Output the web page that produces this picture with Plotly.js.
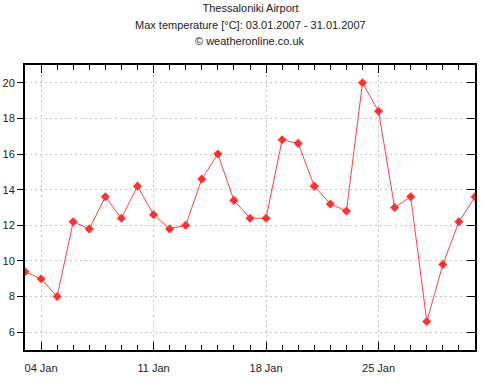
<!DOCTYPE html>
<html><head><meta charset="utf-8">
<script src="https://cdn.plot.ly/plotly-3.0.1.min.js"></script>
<style>html,body{margin:0;padding:0;background:#fff}</style>
</head><body><div id="chart" style="width:501px;height:383px"></div>
<script>
const dates = ["2007-01-03","2007-01-04","2007-01-05","2007-01-06","2007-01-07","2007-01-08","2007-01-09","2007-01-10","2007-01-11","2007-01-12","2007-01-13","2007-01-14","2007-01-15","2007-01-16","2007-01-17","2007-01-18","2007-01-19","2007-01-20","2007-01-21","2007-01-22","2007-01-23","2007-01-24","2007-01-25","2007-01-26","2007-01-27","2007-01-28","2007-01-29","2007-01-30","2007-01-31"];
const maxTemp = [9.4,9.0,8.0,12.2,11.8,13.6,12.4,14.2,12.6,11.8,12.0,14.6,16.0,13.4,12.4,12.4,16.8,16.6,14.2,13.2,12.8,20.0,18.4,13.0,13.6,6.6,9.8,12.2,13.6];
const xTickVals = ["2007-01-04","2007-01-11","2007-01-18","2007-01-25"];
const xTickText = ["04 Jan","11 Jan","18 Jan","25 Jan"];
const yTickVals = [6,8,10,12,14,16,18,20];
const titleLines = ["Thessaloniki Airport","Max temperature [°C]: 03.01.2007 - 31.01.2007","© weatheronline.co.uk"];

const fam = "Liberation Sans, Arial, sans-serif";
const font = {family:fam, size:11, color:"#222"};
const trace = {
  x: dates, y: maxTemp, type:"scatter", mode:"lines+markers",
  line:{color:"#ff4040", width:1},
  marker:{symbol:"diamond", size:7, color:"#ff3030"},
  hoverinfo:"skip"
};
// plot area: top 65px, height 285px
const pxToPaper = py => (350 - py) / 285;
const layout = {
  width:501, height:383,
  margin:{l:25, r:26, t:65, b:33},
  paper_bgcolor:"#fff", plot_bgcolor:"#fff",
  font: font,
  showlegend:false,
  title:{text:titleLines[0], font:{family:fam, size:11, color:"#222"},
    x:0.5, xanchor:"center", y:1 - 8/383, yanchor:"middle"},
  annotations:[
    {text:titleLines[1], xref:"paper", yref:"paper", x:0.5, y:pxToPaper(25), xanchor:"center", yanchor:"middle", showarrow:false, font:{family:fam, size:11, color:"#222"}},
    {text:titleLines[2], xref:"paper", yref:"paper", x:0.5, y:pxToPaper(41), xanchor:"center", yanchor:"middle", showarrow:false, font:{family:fam, size:11, color:"#222"}}
  ],
  xaxis:{
    type:"date", range:["2007-01-03","2007-01-31"],
    tickmode:"array", tickvals:xTickVals, ticktext:xTickText,
    ticks:"inside", ticklen:8, tickwidth:1, tickcolor:"#000", ticklabelstandoff:7,
    minor:{dtick:86400000, tick0:"2007-01-03", ticks:"inside", ticklen:5, tickcolor:"#000", showgrid:false},
    showline:true, linecolor:"#000", linewidth:2, mirror:"ticks",
    showgrid:true, gridcolor:"#c4c4c4", griddash:"2px,3px", gridwidth:1,
    zeroline:false, fixedrange:true
  },
  yaxis:{
    range:[5,21], tickmode:"array", tickvals:yTickVals,
    ticks:"outside", ticklen:6, tickcolor:"#000",
    showline:true, linecolor:"#000", linewidth:2, mirror:true,
    showgrid:true, gridcolor:"#c4c4c4", griddash:"2px,3px", gridwidth:1,
    zeroline:false, fixedrange:true
  },
  yaxis2:{
    range:[5,21], tickmode:"array", tickvals:yTickVals, overlaying:"y", side:"right",
    ticks:"inside", ticklen:8, tickcolor:"#000", showticklabels:false,
    showline:false, showgrid:false, zeroline:false, fixedrange:true
  }
};
const dummy = {x:[dates[0]], y:[maxTemp[0]], yaxis:"y2", type:"scatter", mode:"markers", marker:{opacity:0}, hoverinfo:"skip"};
Plotly.newPlot("chart", [trace, dummy], layout, {staticPlot:true, displayModeBar:false});
</script></body></html>
